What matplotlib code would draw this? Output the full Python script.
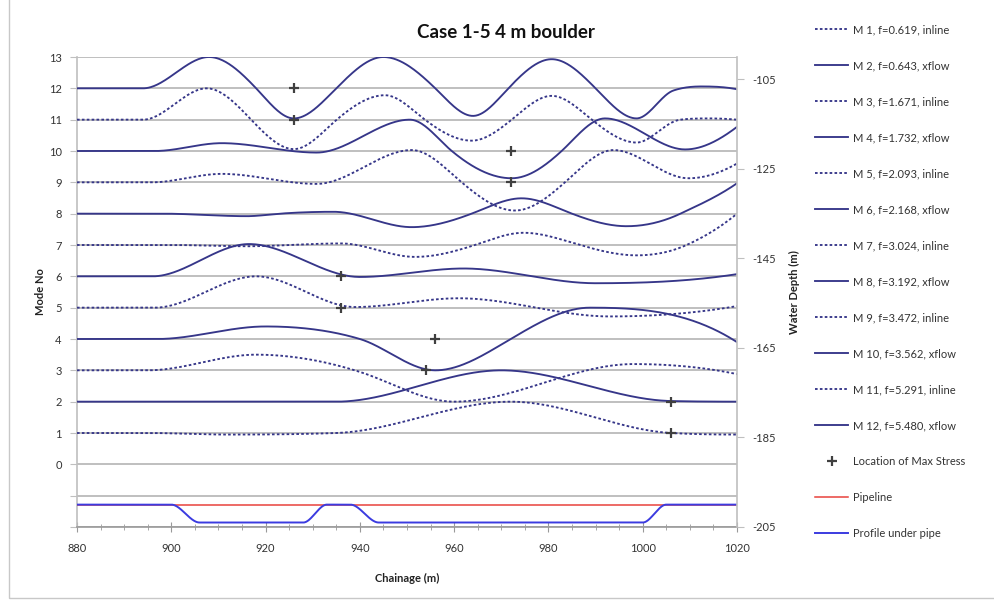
import numpy as np
import matplotlib
matplotlib.use("Agg")
import matplotlib.pyplot as plt
from matplotlib.patches import Rectangle

plt.rcParams['font.family'] = ['Lato', 'DejaVu Sans']
plt.rcParams['axes.unicode_minus'] = False

# ---- data -------------------------------------------------------------
# Mode shapes: key points (chainage m, plotted value = mode no + shape)
m1_ch = [880, 895, 912, 935, 972, 1006, 1020]
m1_val = [1.0, 1.0, 0.95, 1.0, 2.0, 1.0, 0.95]
m2_ch = [880, 935, 970, 1006, 1020]
m2_val = [2.0, 2.0, 3.0, 2.02, 2.0]
m3_ch = [880, 895, 918, 940, 960, 998, 1020]
m3_val = [3.0, 3.0, 3.5, 2.95, 2.0, 3.2, 2.88]
m4_ch = [880, 897, 920, 940, 956, 972, 988.8, 1020]
m4_val = [4.0, 4.0, 4.4, 4.0, 3.0, 4.0, 5.0, 3.9]
m5_ch = [880, 896.5, 918, 939, 961, 993, 1020]
m5_val = [5.0, 5.0, 6.0, 5.02, 5.3, 4.72, 5.05]
m6_ch = [880, 896, 916.5, 940, 962, 990, 1020]
m6_val = [6.0, 6.0, 7.03, 5.98, 6.25, 5.78, 6.07]
m7_ch = [880, 900, 916, 936, 951.7, 964.4, 974.7, 986.7, 998.7, 1009.3, 1020]
m7_val = [7.0, 7.0, 6.96, 7.05, 6.62, 7.0, 7.39, 7.0, 6.67, 7.0, 8.0]
m8_ch = [880, 898, 916, 923, 934.4, 951, 963.7, 974.3, 985, 996.6, 1008, 1020]
m8_val = [8.0, 8.0, 7.92, 8.0, 8.06, 7.57, 8.0, 8.49, 8.0, 7.6, 8.0, 8.97]
m9_ch = [880, 895.8, 910.7, 930.8, 951, 961.6, 972.9, 983.5, 993.8, 1009.7, 1020]
m9_val = [9.0, 9.0, 9.27, 8.95, 10.03, 9.0, 8.1, 9.0, 10.03, 9.13, 9.6]
m10_ch = [880, 896.5, 910.7, 930.8, 950.6, 959.5, 972.2, 982.8, 992, 1009, 1020]
m10_val = [10.0, 10.0, 10.25, 9.95, 11.0, 10.0, 9.13, 10.0, 11.04, 10.05, 10.77]
m11_ch = [880, 894, 907.5, 926, 935.1, 945.3, 953.8, 963.7, 972.2, 980.7, 989.2, 998.7, 1003.3, 1008, 1014, 1020]
m11_val = [11.0, 11.0, 12.0, 10.06, 11.0, 11.78, 11.0, 10.33, 11.0, 11.76, 11.0, 10.27, 10.62, 11.0, 11.04, 11.0]
m12_ch = [880, 894, 908, 918, 926, 935, 945, 956, 964, 971.5, 980.7, 990, 998.7, 1006.5, 1012.5, 1020]
m12_val = [12.0, 12.0, 13.0, 12.0, 11.04, 12.0, 13.0, 12.0, 11.12, 12.0, 12.93, 12.0, 11.04, 11.93, 12.06, 11.97]

mode_numbers = [1, 2, 3, 4, 5, 6, 7, 8, 9, 10, 11, 12]
frequencies = [0.619, 0.643, 1.671, 1.732, 2.093, 2.168,
               3.024, 3.192, 3.472, 3.562, 5.291, 5.480]
directions = ["inline", "xflow"] * 6

# Location of maximum stress (chainage, mode no)
stress_ch = [926, 926, 972, 972, 936, 936, 956, 954, 1006, 1006]
stress_mode = [12, 11, 10, 9, 6, 5, 4, 3, 2, 1]

# Pipeline and seabed profile (water depth, m)
pipe_ch = [880, 1020]
pipe_depth = [-200, -200]
profile_ch = [880, 900, 906, 928, 933, 938, 944, 1000, 1005, 1020]
profile_depth = [-200, -200, -204, -204, -200, -200, -204, -204, -200, -200]

mode_ch = [m1_ch, m2_ch, m3_ch, m4_ch, m5_ch, m6_ch,
           m7_ch, m8_ch, m9_ch, m10_ch, m11_ch, m12_ch]
mode_val = [m1_val, m2_val, m3_val, m4_val, m5_val, m6_val,
            m7_val, m8_val, m9_val, m10_val, m11_val, m12_val]


def smooth_line(x, y, num=600, boost=1.45):
    """Smoothed cubic Hermite curve through the points: flat at turning
    points, steeper (wave-like) tangents where the curve passes through."""
    x = np.asarray(x, float)
    y = np.asarray(y, float)
    n = len(x)
    h = np.diff(x)
    d = np.diff(y) / h
    m = np.zeros(n)
    if n == 2:
        m[:] = d[0]
    else:
        for k in range(1, n - 1):
            if d[k - 1] * d[k] <= 0:
                m[k] = 0.0
            else:
                w1 = 2 * h[k] + h[k - 1]
                w2 = h[k] + 2 * h[k - 1]
                s = (w1 + w2) / (w1 / d[k - 1] + w2 / d[k])
                lim = 3 * min(abs(d[k - 1]), abs(d[k]))
                m[k] = np.sign(s) * min(abs(s) * boost, lim)

        def end_slope(h0, h1, d0, d1):
            s = ((2 * h0 + h1) * d0 - h0 * d1) / (h0 + h1)
            if np.sign(s) != np.sign(d0):
                return 0.0
            if np.sign(d0) != np.sign(d1) and abs(s) > abs(3 * d0):
                return 3 * d0
            return s
        m[0] = end_slope(h[0], h[1], d[0], d[1])
        m[-1] = end_slope(h[-1], h[-2], d[-1], d[-2])
    xs = np.linspace(x[0], x[-1], num)
    idx = np.clip(np.searchsorted(x, xs) - 1, 0, n - 2)
    t = (xs - x[idx]) / h[idx]
    h00 = 2 * t**3 - 3 * t**2 + 1
    h10 = t**3 - 2 * t**2 + t
    h01 = -2 * t**3 + 3 * t**2
    h11 = t**3 - t**2
    ys = (h00 * y[idx] + h10 * h[idx] * m[idx]
          + h01 * y[idx + 1] + h11 * h[idx] * m[idx + 1])
    return xs, ys


# ---- figure -----------------------------------------------------------
W, H = 995, 609
fig = plt.figure(figsize=(W / 100, H / 100), dpi=100)
fig.patch.set_facecolor("white")

# chart border
fig.add_artist(Rectangle((9 / W, 1 - 598 / H), 1.2, 1.2, transform=fig.transFigure,
                         fill=False, edgecolor="#C8C8C8", lw=1.0))

ax = fig.add_axes([77 / W, (H - 527) / H, 660 / W, 470 / H])
ax.set_xlim(880, 1020)
ax.set_ylim(-2, 13)

grid_c = "#BFBFBF"
ax.set_yticks(range(-2, 14))
ax.set_yticklabels([str(v) if v >= 0 else "" for v in range(-2, 14)])
ax.grid(axis="y", color=grid_c, lw=1.4)
ax.set_axisbelow(True)
ax.set_xticks(range(880, 1021, 20))
ax.set_xticks(range(880, 1021, 5), minor=True)

for side in ("top", "right"):
    ax.spines[side].set_visible(False)
ax.spines["left"].set_color(grid_c)
ax.spines["left"].set_linewidth(1.2)
ax.spines["bottom"].set_color("#999999")
ax.spines["bottom"].set_linewidth(1.2)
ax.tick_params(axis="y", direction="out", length=5, color=grid_c,
               labelsize=8, labelcolor="#333333", pad=6)
ax.tick_params(axis="x", which="major", direction="inout", length=7,
               color="#999999", labelsize=8, labelcolor="#333333", pad=8)
ax.tick_params(axis="x", which="minor", direction="inout", length=4,
               color="#999999")

line_c = "#363689"
handles = []
for i, (xc, yv) in enumerate(zip(mode_ch, mode_val)):
    xs, ys = smooth_line(xc, yv)
    if directions[i] == "inline":
        ls = (0, (1.4, 1.2))
    else:
        ls = "-"
    label = f"M {mode_numbers[i]}, f={frequencies[i]:.3f}, {directions[i]}"
    ln, = ax.plot(xs, ys, color=line_c, lw=1.35, ls=ls, label=label, zorder=3)
    handles.append(ln)

mk, = ax.plot(stress_ch, stress_mode, ls="none", marker="+", ms=7, mew=1.6,
              color="#404040", label="Location of Max Stress", zorder=5)
handles.append(mk)

ax2 = ax.twinx()
ax2.set_ylim(-205, -100)
ax2.set_yticks(range(-205, -104, 20))
for side in ("top", "left", "bottom"):
    ax2.spines[side].set_visible(False)
ax2.spines["right"].set_color(grid_c)
ax2.spines["right"].set_linewidth(1.2)
ax2.tick_params(axis="y", direction="out", length=5, color=grid_c,
                labelsize=8, labelcolor="#333333", pad=6)

pl, = ax2.plot(pipe_ch, pipe_depth, color="#E8413C", lw=1.1, label="Pipeline")
px, py = smooth_line(profile_ch, profile_depth, num=1400, boost=1.0)
pr, = ax2.plot(px, py, color="#3B3BE0", lw=1.4, label="Profile under pipe")
handles += [pl, pr]

ax.set_xlabel("Chainage (m)", fontsize=8, fontweight="bold", color="#222222")
ax.xaxis.set_label_coords(0.5, -0.098)
ax.set_ylabel("Mode No", fontsize=8, fontweight="bold", color="#222222")
ax.yaxis.set_label_coords(-0.047, 0.5)
ax2.set_ylabel("Water Depth (m)", fontsize=8, fontweight="bold", color="#222222")
ax2.yaxis.set_label_coords(1.079, 0.5)

fig.text(506 / W, 1 - 32 / H, "Case 1-5 4 m boulder", ha="center", va="center",
         fontsize=13.5, fontweight="bold", color="#111111")

fig.legend(handles=handles, loc="upper left", bbox_to_anchor=(815 / W, 1 - 24 / H),
           frameon=False, fontsize=8, handlelength=3.0, handletextpad=0.45,
           labelspacing=2.25, borderaxespad=0, borderpad=0, labelcolor="#333333")

fig.savefig("out.png", dpi=100)
